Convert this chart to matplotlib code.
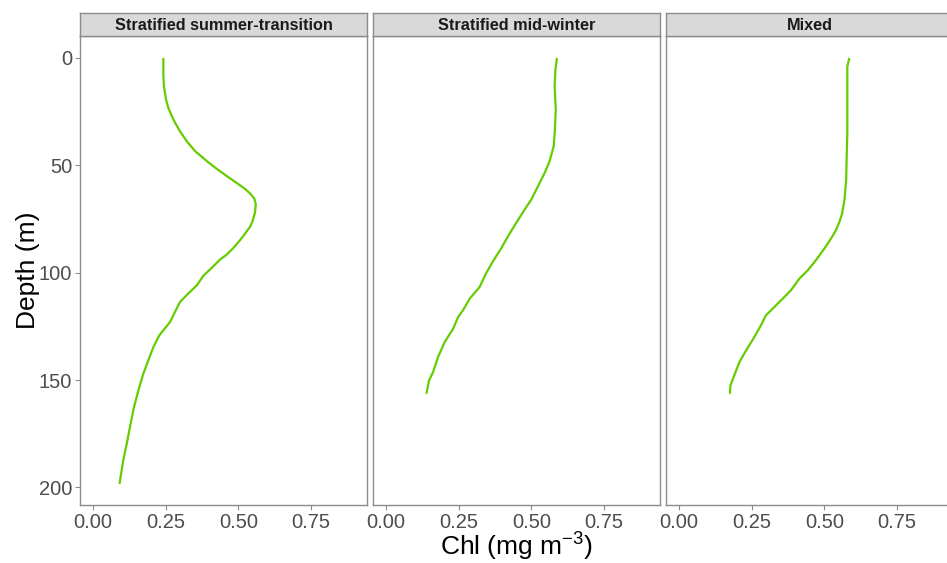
import matplotlib
matplotlib.use("Agg")
import matplotlib.pyplot as plt

plt.rcParams['font.family'] = ['Liberation Sans', 'DejaVu Sans']
plt.rcParams['mathtext.fontset'] = 'custom'
plt.rcParams['mathtext.rm'] = 'Liberation Sans'
plt.rcParams['mathtext.it'] = 'Liberation Sans'

panels = ["Stratified summer-transition", "Stratified mid-winter", "Mixed"]

depth_summer = [0, 8.4, 13.1, 19.3, 23.2, 27.1, 30.6, 34.1, 38.7, 43.4, 46.0, 48.0, 51.6,
                55.0, 58.2, 61.0, 63.1, 65.5, 68.3, 72.1, 76.0, 78.7, 80.7, 83.0, 85.8,
                88.5, 91.6, 93.9, 96.2, 98.6, 101.4, 105.9, 110.5, 113.7, 118.3, 123.0,
                124.5, 129.2, 134.6, 140.9, 147.1, 154.9, 162.6, 172.0, 179.7, 187.5, 198.4]
chl_summer = [0.242, 0.242, 0.244, 0.251, 0.259, 0.271, 0.284, 0.299, 0.322, 0.351, 0.374,
              0.391, 0.425, 0.460, 0.494, 0.523, 0.540, 0.555, 0.560, 0.557, 0.549, 0.540,
              0.529, 0.517, 0.500, 0.483, 0.460, 0.437, 0.420, 0.402, 0.380, 0.357, 0.322,
              0.299, 0.282, 0.265, 0.256, 0.228, 0.208, 0.190, 0.173, 0.156, 0.141, 0.127,
              0.116, 0.104, 0.091]

depth_winter = [0, 5.3, 13.1, 23.9, 33.3, 41.0, 48.0, 53.5, 59.7, 65.9, 70.6, 76.8, 83.0,
                88.5, 94.7, 100.1, 106.7, 112.1, 117.5, 120.7, 126.1, 132.3, 139.3, 146.3,
                150.2, 156.4]
chl_winter = [0.588, 0.583, 0.580, 0.584, 0.581, 0.577, 0.563, 0.546, 0.523, 0.500, 0.477,
              0.448, 0.420, 0.397, 0.368, 0.345, 0.322, 0.288, 0.265, 0.248, 0.231, 0.202,
              0.179, 0.162, 0.148, 0.139]

depth_mixed = [0, 4.0, 20.0, 35.0, 45.0, 56.9, 66.2, 72.5, 76.3, 80.2, 84.1, 88.8, 94.2,
               98.9, 102.8, 108.2, 112.1, 116.8, 119.9, 124.5, 130.0, 136.2, 141.6, 147.9,
               152.5, 156.4]
chl_mixed = [0.586, 0.579, 0.579, 0.579, 0.577, 0.575, 0.569, 0.561, 0.552, 0.540, 0.523,
             0.500, 0.471, 0.443, 0.414, 0.385, 0.357, 0.322, 0.299, 0.282, 0.259, 0.231,
             0.208, 0.190, 0.177, 0.175]

depths = [depth_summer, depth_winter, depth_mixed]
chls = [chl_summer, chl_winter, chl_mixed]

x_ticks = [0.0, 0.25, 0.5, 0.75]
x_labels = ["0.00", "0.25", "0.50", "0.75"]
y_ticks = [0, 50, 100, 150, 200]

W, H = 947, 563
fig = plt.figure(figsize=(W / 100, H / 100), dpi=100)

panel_x = [80, 373, 666]
pw = 287
ptop, pbot = 36, 505
stop = 13

border = '#8C8C8C'
tickcol = '#4D4D4D'
for i, (px, name) in enumerate(zip(panel_x, panels)):
    ax = fig.add_axes([px / W, (H - pbot) / H, pw / W, (pbot - ptop) / H])
    ax.plot(chls[i], depths[i], color='#66CC00', lw=1.6, solid_capstyle='butt',
            solid_joinstyle='round')
    ax.set_xlim(-0.0447, 0.9425)
    ax.set_ylim(208.2, -10.2)
    ax.set_xticks(x_ticks)
    ax.set_xticklabels(x_labels)
    ax.set_yticks(y_ticks)
    ax.tick_params(axis='both', colors=border, labelcolor=tickcol, labelsize=14.5,
                   length=3.5, width=0.8, pad=2)
    if i > 0:
        ax.tick_params(axis='y', left=False, labelleft=False)
    for sp in ax.spines.values():
        sp.set_color(border)
        sp.set_linewidth(1.0)
    # strip
    sax = fig.add_axes([px / W, (H - ptop) / H, pw / W, (ptop - stop) / H])
    sax.set_facecolor('#D9D9D9')
    sax.set_xticks([])
    sax.set_yticks([])
    for sp in sax.spines.values():
        sp.set_color(border)
        sp.set_linewidth(1.0)
    sax.text(0.5, 0.44, name, ha='center', va='center', fontsize=11.7, fontweight='bold',
             color='#1A1A1A', transform=sax.transAxes)

fig.text(28 / W, 1 - 270 / H, "Depth (m)", rotation=90, ha='center', va='center',
         fontsize=19, color='black')
fig.text(516 / W, 1 - 547 / H, r"Chl (mg m$^{-3}$)", ha='center', va='center',
         fontsize=19, color='black')

fig.savefig("out.png", dpi=100)
